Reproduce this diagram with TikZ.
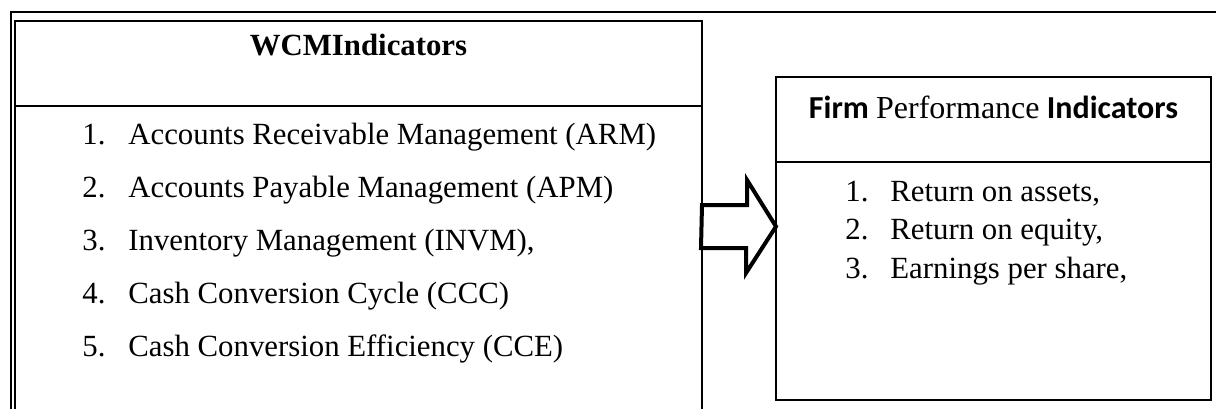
\documentclass[tikz,border=0pt]{standalone}
\usepackage{fontspec}
\setmainfont{Liberation Serif}
\newfontfamily\headfont{Carlito}
\usetikzlibrary{positioning}

\begin{document}
\begin{tikzpicture}[x=0.5pt, y=-0.5pt,
    boxline/.style={draw, line width=0.75pt, inner sep=0pt, outer sep=0pt},
    item/.style={anchor=base west, inner sep=0pt, font=\fontsize{15.4}{18}\selectfont},
    title/.style={anchor=base, inner sep=0pt}]
  \useasboundingbox (0,0) rectangle (1216,409);

  % outer frame, runs off the page
  \draw[line width=1pt] (11,409) -- (11,12) -- (1216,12);

  % working capital side
  \node[boxline, minimum width=343.5pt, minimum height=42.5pt] (wcmHead) at (358.5,63.5) {};
  \node[title, font=\bfseries\fontsize{15.4}{18}\selectfont] (wcmTitle) at (358.5,55) {WCMIndicators};
  \draw[line width=0.75pt] (wcmHead.south west) -- ++(0,303)
    (wcmHead.south east) -- ++(0,303);
  \foreach \txt [count=\i] in {Accounts Receivable Management (ARM),
      Accounts Payable Management (APM), {Inventory Management (INVM),},
      Cash Conversion Cycle (CCC), Cash Conversion Efficiency (CCE)} {
    \node[item] (wcmNum\i) at (82,{144+53.2*(\i-1)}) {\i.};
    \node[item] (wcm\i) at (128,{144+53.2*(\i-1)}) {\txt};
  }

  % performance side
  \node[boxline, minimum width=217.5pt, minimum height=42.5pt] (fpHead) at (993.5,119.5) {};
  \node[boxline, minimum width=217.5pt, minimum height=119pt, below=0pt of fpHead] (fpBody) {};
  \node[title, font=\headfont\bfseries\fontsize{16}{19}\selectfont] (fpTitle) at (993.5,118)
    {Firm {\rmfamily\mdseries Performance} Indicators};
  \foreach \txt [count=\i] in {{Return on assets,}, {Return on equity,}, {Earnings per share,}} {
    \node[item] (fpNum\i) at (845,{201+38.5*(\i-1)}) {\i.};
    \node[item] (fp\i) at (890,{201+38.5*(\i-1)}) {\txt};
  }

  % block arrow between the two
  \coordinate (arrTail) at (wcmHead.east |- 0,226.5);
  \coordinate (arrTip) at (fpBody.west |- 0,226.5);
  \draw[line width=2pt] (arrTail) ++(0,-21.5) -- ++(45,0) -- ++(0,-25) -- (arrTip)
    -- ++(-30,46.5) -- ++(0,-25) -- ++(-45,0) -- cycle;
\end{tikzpicture}
\end{document}
